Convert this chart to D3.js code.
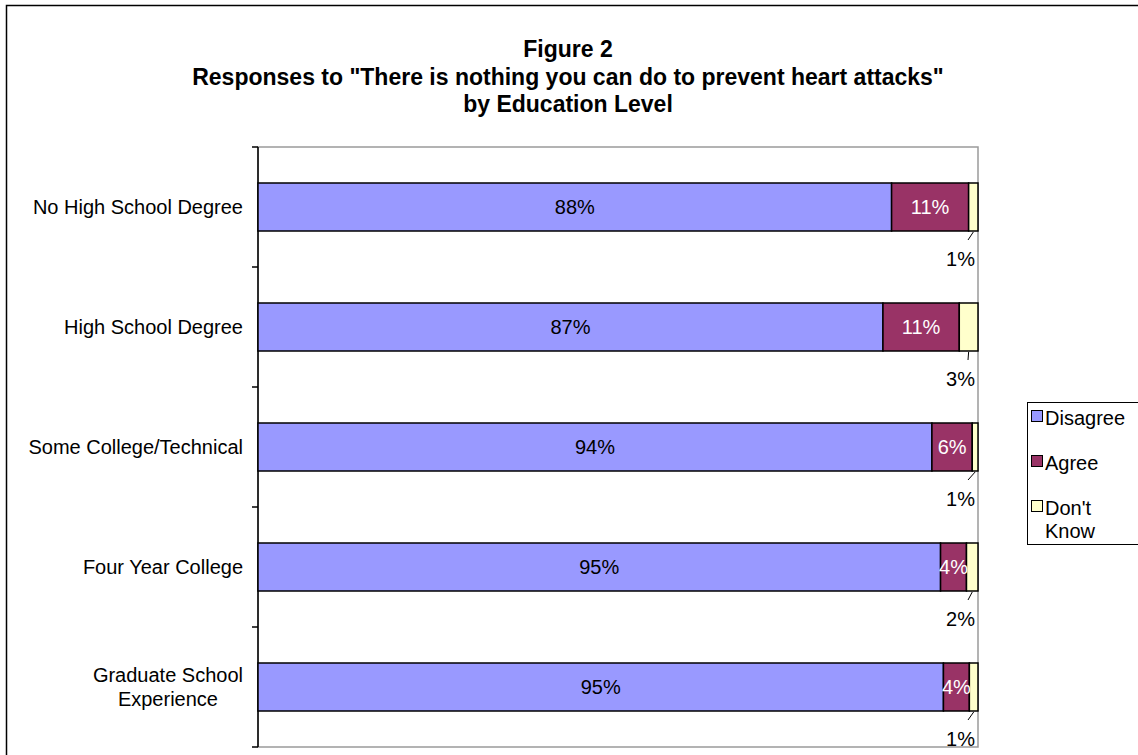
<!DOCTYPE html>
<html>
<head>
<meta charset="utf-8">
<script src="https://cdn.jsdelivr.net/npm/d3@7"></script>
<style>
  html, body { margin: 0; padding: 0; background: #fff; }
  svg { display: block; }
  text { font-family: "Liberation Sans", Arial, sans-serif; }
</style>
</head>
<body>
<script>
// Survey responses by education level (percent of respondents)
const categories = [
  "No High School Degree",
  "High School Degree",
  "Some College/Technical",
  "Four Year College",
  "Graduate School Experience"
];
const seriesNames = ["Disagree", "Agree", "Don't Know"];
const disagree = [88.0, 86.8, 93.6, 94.8, 95.2];
const agree    = [10.7, 10.6, 5.6, 3.6, 3.6];
const dontKnow = [1.3, 2.6, 0.8, 1.6, 1.2];
const seriesColors = ["#9999FF", "#993366", "#FFFFCC"];
const titleLines = [
  "Figure 2",
  "Responses to \"There is nothing you can do to prevent heart attacks\"",
  "by Education Level"
];

const W = 1138, H = 755;
const plot = { left: 258, right: 978, top: 147, bottom: 747 };

const svg = d3.select("body").append("svg")
  .attr("width", W).attr("height", H);

// chart area frame
svg.append("rect")
  .attr("x", 6.5).attr("y", 5.5)
  .attr("width", W + 10).attr("height", H + 10)
  .attr("fill", "#fff").attr("stroke", "#000").attr("stroke-width", 1.5);

// title
const title = svg.append("text")
  .attr("text-anchor", "middle")
  .attr("font-weight", "bold")
  .attr("font-size", 23)
  .attr("fill", "#000");
titleLines.forEach((t, i) => {
  title.append("tspan").attr("x", 568).attr("y", 57 + i * 27.5).text(t);
});

// rows stacked and normalised to 100%
const rows = categories.map((c, i) => {
  const vals = [disagree[i], agree[i], dontKnow[i]];
  const total = d3.sum(vals);
  let acc = 0;
  const segs = vals.map((v, k) => {
    const s = { key: seriesNames[k], k, value: v, x0: acc / total, x1: (acc + v) / total };
    acc += v;
    return s;
  });
  return { cat: c, segs };
});

const x = d3.scaleLinear().domain([0, 1]).range([plot.left, plot.right]);
const y = d3.scaleBand().domain(categories)
  .range([plot.top, plot.bottom])
  .paddingInner(0.6).paddingOuter(0.3);

// plot area border (grey)
svg.append("rect")
  .attr("x", plot.left).attr("y", plot.top)
  .attr("width", plot.right - plot.left).attr("height", plot.bottom - plot.top)
  .attr("fill", "#fff").attr("stroke", "#9a9a9a").attr("stroke-width", 1.5);

// category axis with ticks on band boundaries
const step = y.step();
const boundaries = d3.range(categories.length + 1).map(i => plot.top + i * step);
const axisG = svg.append("g");
axisG.append("line")
  .attr("x1", plot.left).attr("x2", plot.left)
  .attr("y1", plot.top).attr("y2", plot.bottom)
  .attr("stroke", "#000").attr("stroke-width", 1.5);
axisG.selectAll("line.tick").data(boundaries).join("line")
  .attr("class", "tick")
  .attr("x1", plot.left - 6).attr("x2", plot.left)
  .attr("y1", d => d).attr("y2", d => d)
  .attr("stroke", "#000").attr("stroke-width", 1.5);

// category labels (wrapped label block is centred on itself, right-aligned to the axis)
const labelRight = 243;
const catLines = {
  "Graduate School Experience": ["Graduate School", "Experience"]
};
categories.forEach(c => {
  const lines = catLines[c] || [c];
  const cy = y(c) + y.bandwidth() / 2;
  const t = svg.append("text")
    .attr("font-size", 20).attr("fill", "#000")
    .attr("text-anchor", lines.length > 1 ? "middle" : "end");
  if (lines.length === 1) {
    t.attr("x", labelRight).attr("y", cy).attr("dy", "0.35em").text(c);
  } else {
    const spans = lines.map((l, i) => t.append("tspan").text(l)
      .attr("y", cy + (i - (lines.length - 1) / 2) * 24).attr("dy", "0.35em"));
    const maxW = d3.max(spans, s => s.node().getComputedTextLength());
    spans.forEach(s => s.attr("x", labelRight - maxW / 2));
  }
});

// bars
const rowG = svg.selectAll("g.row").data(rows).join("g").attr("class", "row");
rowG.selectAll("rect").data(d => d.segs.map(s => ({ ...s, cat: d.cat }))).join("rect")
  .attr("x", d => x(d.x0))
  .attr("y", d => y(d.cat))
  .attr("width", d => x(d.x1) - x(d.x0))
  .attr("height", y.bandwidth())
  .attr("fill", d => seriesColors[d.k])
  .attr("stroke", "#000").attr("stroke-width", 1.5);

const pct = v => Math.round(v) + "%";

// data labels inside the Disagree and Agree segments
rows.forEach(r => {
  const cy = y(r.cat) + y.bandwidth() / 2;
  r.segs.slice(0, 2).forEach(s => {
    svg.append("text")
      .attr("x", (x(s.x0) + x(s.x1)) / 2)
      .attr("y", cy).attr("dy", "0.35em")
      .attr("text-anchor", "middle")
      .attr("font-size", 20)
      .attr("fill", s.k === 0 ? "#000" : "#fff")
      .text(pct(s.value));
  });
  // Don't Know label placed under the bar with a leader line
  const s = r.segs[2];
  const bottom = y(r.cat) + y.bandwidth();
  const cx = (x(s.x0) + x(s.x1)) / 2;
  svg.append("line")
    .attr("x1", cx).attr("y1", bottom + 1)
    .attr("x2", 968).attr("y2", bottom + 9)
    .attr("stroke", "#000").attr("stroke-width", 1);
  svg.append("text")
    .attr("x", 975).attr("y", bottom + 35)
    .attr("text-anchor", "end")
    .attr("font-size", 20).attr("fill", "#000")
    .text(pct(s.value));
});

// legend
const legend = svg.append("g");
legend.append("rect")
  .attr("x", 1027.5).attr("y", 402.5)
  .attr("width", 120).attr("height", 142)
  .attr("fill", "#fff").attr("stroke", "#000").attr("stroke-width", 1);
const legendLines = [["Disagree"], ["Agree"], ["Don't", "Know"]];
legendLines.forEach((lines, i) => {
  const ty = 418 + i * 45;
  legend.append("rect")
    .attr("x", 1031.5).attr("y", ty - 7.5)
    .attr("width", 11).attr("height", 11)
    .attr("fill", seriesColors[i]).attr("stroke", "#000").attr("stroke-width", 1);
  const t = legend.append("text").attr("font-size", 20).attr("fill", "#000");
  lines.forEach((l, j) => {
    t.append("tspan").attr("x", 1045).attr("y", ty + j * 23).attr("dy", "0.35em").text(l);
  });
});
</script>
</body>
</html>
